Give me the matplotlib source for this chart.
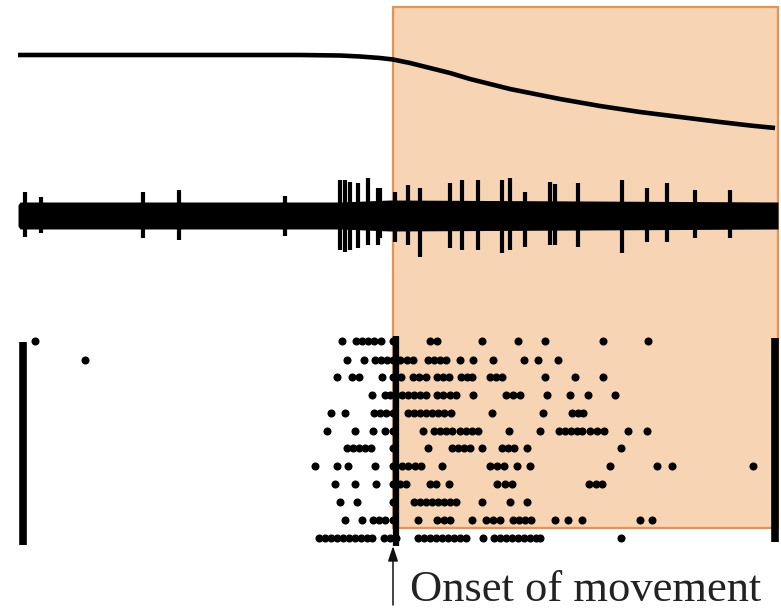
import matplotlib
matplotlib.use("Agg")
import matplotlib.pyplot as plt
from matplotlib.patches import Rectangle

# ---------------- data (time in arbitrary units) ----------------
onset_time = 393
window_start, window_end = 393, 778

# hand/limb position trace
pos_time = [18, 100, 200, 300, 340, 360, 380, 393, 410, 430, 450, 470, 490, 510, 530, 560, 600, 640,
            680, 720, 750, 775]
pos_value = [55, 55, 55, 55, 55.5, 56.5, 58, 59.5, 63, 68, 73, 79, 84, 89, 93, 99, 106, 112,
             117, 122, 125.5, 128]

# extracellular recording: background band and spikes
band_time = [18, 20, 340, 390, 778]
band_top = [205, 202, 202, 200, 202]
band_bottom = [226, 229, 229, 231, 229]
spike_time = [25, 41, 143, 179, 285, 340, 345, 350, 358, 368, 378,
              380, 395, 408, 420, 450, 462, 478, 502, 510, 525, 550, 555, 578,
              622, 647, 667, 695, 730]
spike_top = [192, 197, 192, 190, 196, 180, 180, 182, 183, 178, 188,
             188, 192, 185, 188, 183, 180, 180, 180, 178, 192, 182, 184, 183,
             180, 188, 183, 190, 190]
spike_bottom = [237, 233, 238, 240, 236, 250, 252, 250, 248, 245, 245,
                238, 242, 245, 257, 248, 250, 250, 253, 250, 247, 245, 245, 247,
                253, 242, 242, 238, 238]

# raster: one list of spike times per trial
trial_y = [341, 360, 377, 395, 413, 431, 448, 466, 484, 502, 520, 538]
raster = [
    [35, 342, 356, 362, 368, 374, 381, 393, 430, 437, 482, 518, 545, 603, 648],
    [85, 347, 364, 375, 381, 387, 393, 400, 407, 413, 428, 434, 440, 446, 460, 473, 493, 524, 538, 558],
    [337, 352, 359, 382, 393, 401, 413, 419, 426, 437, 443, 449, 461, 467, 472, 490, 496, 502, 545, 575, 603],
    [372, 385, 390, 396, 402, 408, 414, 420, 426, 437, 443, 450, 456, 473, 506, 513, 520, 547, 570, 588, 615],
    [331, 345, 374, 380, 386, 393, 408, 414, 420, 426, 432, 438, 444, 451, 492, 543, 572, 578, 583],
    [327, 355, 373, 385, 393, 423, 434, 440, 446, 452, 460, 466, 472, 478, 509, 540, 559, 565, 571, 577,
     582, 590, 597, 604, 628, 647],
    [347, 353, 359, 365, 371, 393, 428, 452, 458, 464, 470, 482, 502, 508, 514, 527, 621],
    [315, 337, 348, 375, 393, 402, 408, 415, 421, 442, 490, 497, 504, 517, 530, 610, 657, 672, 753],
    [335, 355, 376, 393, 400, 406, 430, 436, 449, 497, 505, 512, 589, 596, 602],
    [340, 357, 393, 414, 420, 426, 432, 438, 444, 450, 456, 482, 510, 527],
    [345, 362, 373, 379, 385, 393, 418, 437, 444, 450, 472, 486, 493, 500, 513, 519, 525, 531, 555,
     568, 582, 640, 652],
    [319, 325, 331, 337, 343, 349, 355, 361, 367, 372, 384, 390, 396, 418, 424, 430, 436, 442, 448,
     454, 460, 466, 483, 494, 500, 506, 512, 518, 524, 530, 536, 540, 621],
]
label_text = "Onset of movement"

# ---------------- figure ----------------
fig = plt.figure(figsize=(7.81, 6.15), dpi=100)
ax = fig.add_axes([0, 0, 1, 1])
ax.set_xlim(0, 781)
ax.set_ylim(615, 0)
ax.axis("off")

# shaded movement window
ax.add_patch(Rectangle((window_start, 7), window_end - window_start, 528 - 7,
                       facecolor="#F6D4B4", edgecolor="#E8924A", linewidth=1.6, zorder=0))

# position trace
ax.plot(pos_time, pos_value, color="black", lw=3.3, solid_capstyle="butt", zorder=3)

# recording
ax.fill_between(band_time, band_top, band_bottom, color="black", lw=0, zorder=3)
ax.vlines(spike_time, spike_top, spike_bottom, color="black", lw=3.0, zorder=3)

# raster
for y, times in zip(trial_y, raster):
    ax.plot(times, [y] * len(times), "o", color="black", ms=5.8, mec="none", zorder=4)

# bars at trial start/end and onset line
ax.vlines([23], 342, 545, color="black", lw=5.5, zorder=4)
ax.vlines([775], 338, 542, color="black", lw=5.5, zorder=4)
ax.vlines([onset_time + 3], 336, 546, color="black", lw=4.5, zorder=4)

# arrow + label
ax.annotate("", xy=(onset_time, 546), xytext=(onset_time, 605),
            arrowprops=dict(arrowstyle="-|>,head_length=0.9,head_width=0.3",
                            color="#111111", lw=1.1, shrinkA=0, shrinkB=0), zorder=5)
ax.text(410, 601, label_text, fontsize=32, family="Liberation Serif",
        color="#222222", va="baseline", ha="left")

fig.savefig("out.png", dpi=100)
